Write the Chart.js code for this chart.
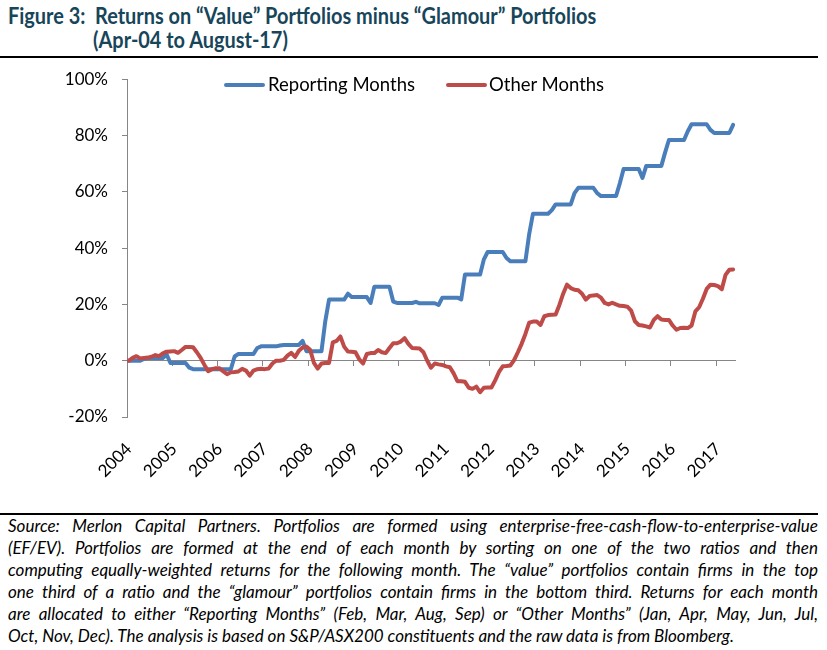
<!DOCTYPE html>
<html>
<head>
<meta charset="utf-8">
<script src="https://cdn.jsdelivr.net/npm/chart.js@4.4.0/dist/chart.umd.min.js"></script>
<style>
  body { margin: 0; background: #fff; }
  #page { position: relative; width: 827px; height: 650px; overflow: hidden; background: #fff; }
  #title { position: absolute; left: 8px; top: 4px; color: #17455a; font-family: "Lato", sans-serif; font-weight: bold; font-size: 22px; line-height: 24px; white-space: nowrap; transform: scaleX(0.905); transform-origin: 0 0; }
  #title .l2 { padding-left: 94px; }
  .rule { position: absolute; left: 0; width: 818px; height: 2px; background: #000; }
  #chartBox { position: absolute; left: 0; top: 55px; width: 827px; height: 445px; }
  #legend { position: absolute; top: 73px; left: 0; font-family: "Lato", sans-serif; font-size: 18.5px; color: #000; white-space: nowrap; }
  #legend span.item { position: absolute; top: 0; }
  #legend i { position: absolute; top: 10px; height: 4px; width: 41px; border-radius: 2px; }
  #note { position: absolute; left: 8px; top: 515px; width: 810px; font-family: "Lato", sans-serif; font-style: italic; font-size: 17px; line-height: 22px; color: #000; }
  #note div { text-align: justify; text-align-last: justify; white-space: nowrap; }
  #note div.last { text-align-last: left; }
</style>
</head>
<body>
<div id="page">
  <div id="title">
    <div>Figure 3:&nbsp; Returns on “Value” Portfolios minus “Glamour” Portfolios</div>
    <div class="l2">(Apr-04 to August-17)</div>
  </div>
  <div class="rule" style="top:56px"></div>
  <div id="chartBox"><canvas id="chartReturns" width="827" height="445"></canvas></div>
  <div id="legend">
    <i style="left:224px;background:#4A7EBB"></i><span class="item" style="left:268px">Reporting Months</span>
    <i style="left:446px;background:#BE4B48"></i><span class="item" style="left:489px">Other Months</span>
  </div>
  <div class="rule" style="top:513px"></div>
  <div id="note">
    <div>Source: Merlon Capital Partners. Portfolios are formed using enterprise-free-cash-flow-to-enterprise-value</div>
    <div>(EF/EV). Portfolios are formed at the end of each month by sorting on one of the two ratios and then</div>
    <div>computing equally-weighted returns for the following month. The “value” portfolios contain firms in the top</div>
    <div>one third of a ratio and the “glamour” portfolios contain firms in the bottom third. Returns for each month</div>
    <div>are allocated to either “Reporting Months” (Feb, Mar, Aug, Sep) or “Other Months” (Jan, Apr, May, Jun, Jul,</div>
    <div class="last">Oct, Nov, Dec). The analysis is based on S&amp;P/ASX200 constituents and the raw data is from Bloomberg.</div>
  </div>
</div>
<script>
// monthly points, Apr-04 .. Aug-17
const yearTicks = ['2004', '2005', '2006', '2007', '2008', '2009', '2010', '2011', '2012', '2013', '2014', '2015', '2016', '2017'];
const monthNames = ['Jan', 'Feb', 'Mar', 'Apr', 'May', 'Jun', 'Jul', 'Aug', 'Sep', 'Oct', 'Nov', 'Dec'];

// cumulative return, value minus glamour (%)
const reportingMonths = [
  0, 0, 0, 0, 0.6, 1.0, 1.0, 1.0, 1.0,
  1.0, 2.2, -0.8, -0.8, -0.8, -0.8, -0.8, -2.5, -3.0, -3.0, -3.0, -3.0,
  -3.0, -3.0, -3.0, -3.0, -3.0, -3.0, -3.0, 1.5, 2.4, 2.4, 2.4, 2.4,
  2.4, 4.5, 5.1, 5.1, 5.1, 5.1, 5.1, 5.4, 5.6, 5.6, 5.6, 5.6,
  5.6, 7.0, 3.4, 3.4, 3.4, 3.4, 3.4, 14.0, 21.7, 21.7, 21.7, 21.7,
  21.7, 23.8, 22.6, 22.6, 22.6, 22.6, 22.6, 20.5, 26.3, 26.3, 26.3, 26.3,
  26.3, 21.0, 20.5, 20.5, 20.5, 20.5, 20.5, 20.9, 20.4, 20.4, 20.4, 20.4,
  20.4, 19.8, 22.4, 22.4, 22.4, 22.4, 22.4, 21.8, 30.6, 30.6, 30.6, 30.6,
  30.6, 36.0, 38.6, 38.6, 38.6, 38.6, 38.6, 36.5, 35.3, 35.3, 35.3, 35.3,
  35.3, 45.0, 52.2, 52.2, 52.2, 52.2, 52.2, 53.5, 55.5, 55.5, 55.5, 55.5,
  55.5, 59.5, 61.4, 61.4, 61.4, 61.4, 61.4, 59.5, 58.5, 58.5, 58.5, 58.5,
  58.5, 63.0, 68.1, 68.1, 68.1, 68.1, 68.1, 64.9, 69.2, 69.2, 69.2, 69.2,
  69.2, 74.0, 78.4, 78.4, 78.4, 78.4, 78.4, 81.5, 84.0, 84.0, 84.0, 84.0,
  84.0, 82.0, 80.9, 80.9, 80.9, 80.9, 80.9, 83.8
];
const otherMonths = [
  0, 1.0, 1.6, 0.8, 1.0, 1.1, 1.4, 2.0, 1.6,
  2.6, 3.2, 3.3, 3.4, 2.8, 3.8, 4.9, 4.9, 4.8, 3.0, 1.0, -1.5,
  -3.7, -3.0, -2.7, -2.7, -3.8, -4.8, -4.1, -4.0, -3.8, -2.9, -3.5, -5.3,
  -3.5, -3.0, -2.9, -3.0, -2.8, -1.0, 0.0, 0.0, 0.3, 1.8, 2.8, 1.3,
  3.5, 4.7, 5.0, 3.9, -0.8, -2.8, -1.0, -0.8, -0.8, 6.5, 7.0, 8.6,
  5.0, 3.3, 3.2, 3.0, 0.5, -1.0, 2.4, 2.7, 2.7, 3.8, 3.0, 2.7,
  4.5, 6.2, 6.2, 6.8, 8.0, 6.0, 4.5, 4.4, 4.3, 3.0, 0.0, -2.5,
  -1.0, -1.3, -1.5, -2.0, -2.3, -4.5, -7.3, -7.3, -7.5, -9.6, -10.0, -9.2,
  -11.2, -9.6, -9.5, -9.5, -7.0, -4.0, -2.0, -1.9, -1.7, 0.2, 3.0, 6.0,
  9.5, 13.5, 13.9, 13.9, 12.7, 15.8, 16.2, 16.3, 16.4, 19.8, 23.8, 27.0,
  25.8, 25.2, 25.0, 23.8, 21.7, 23.0, 23.2, 23.3, 22.4, 20.5, 20.0, 20.6,
  20.0, 19.5, 19.4, 19.2, 17.8, 14.0, 12.7, 12.5, 12.2, 11.8, 14.5, 15.8,
  14.6, 14.5, 14.5, 12.5, 11.0, 11.6, 11.7, 11.6, 12.5, 17.5, 19.0, 22.0,
  25.5, 27.0, 26.9, 26.5, 25.4, 30.5, 32.3, 32.4
];

// category labels Apr-04 .. Aug-17
const monthLabels = [];
for (let i = 0; i < reportingMonths.length; i++) {
  const m = 3 + i;
  monthLabels.push(monthNames[m % 12] + '-' + yearTicks[Math.floor(m / 12)].slice(2));
}

const axisGrey = '#868686';
const tickFont = { family: 'Lato', size: 17 };

var ctx = document.getElementById('chartReturns');
var returnsChart = new Chart(ctx, {
  type: 'line',
  data: {
    labels: monthLabels,
    datasets: [
      {
        label: 'Reporting Months',
        data: reportingMonths,
        borderColor: '#4A7EBB',
        borderWidth: 4,
        pointRadius: 0,
        borderJoinStyle: 'round',
        borderCapStyle: 'round',
        order: 1,
      },
      {
        label: 'Other Months',
        data: otherMonths,
        borderColor: '#BE4B48',
        borderWidth: 4,
        pointRadius: 0,
        borderJoinStyle: 'round',
        borderCapStyle: 'round',
        order: 0,
      },
    ],
  },
  options: {
    responsive: false,
    animation: false,
    devicePixelRatio: 1,
    layout: { padding: { left: 0, right: 92, top: 18, bottom: 0 } },
    plugins: {
      legend: { display: false },
      tooltip: { enabled: false },
    },
    scales: {
      x: {
        type: 'category',
        position: { y: 0 },
        offset: true,
        grid: {
          offset: true,
          drawOnChartArea: false,
          drawTicks: true,
          tickLength: 5,
          color: (c) => (c.index % 12 === 0 ? axisGrey : 'rgba(0,0,0,0)'),
        },
        border: { display: true, color: axisGrey, width: 1 },
        ticks: { display: false, autoSkip: false },
      },
      x2: {
        type: 'category',
        position: 'bottom',
        offset: true,
        grid: { display: false, drawTicks: false },
        border: { display: false },
        ticks: {
          autoSkip: false,
          minRotation: 45,
          maxRotation: 45,
          padding: 22,
          color: '#000',
          font: tickFont,
          callback: (v, i) => (i % 12 === 0 ? yearTicks[i / 12] : ''),
        },
        afterFit: (s) => { s.height = 83; },
      },
      y: {
        min: -20,
        max: 100,
        ticks: {
          stepSize: 20,
          padding: 14,
          color: '#000',
          font: tickFont,
          callback: (v) => v + '%',
        },
        grid: { drawOnChartArea: false, drawTicks: true, tickLength: 5, color: axisGrey },
        border: { color: axisGrey },
        afterFit: (s) => { s.width = 127; },
      },
    },
  },
});
</script>
</body>
</html>
